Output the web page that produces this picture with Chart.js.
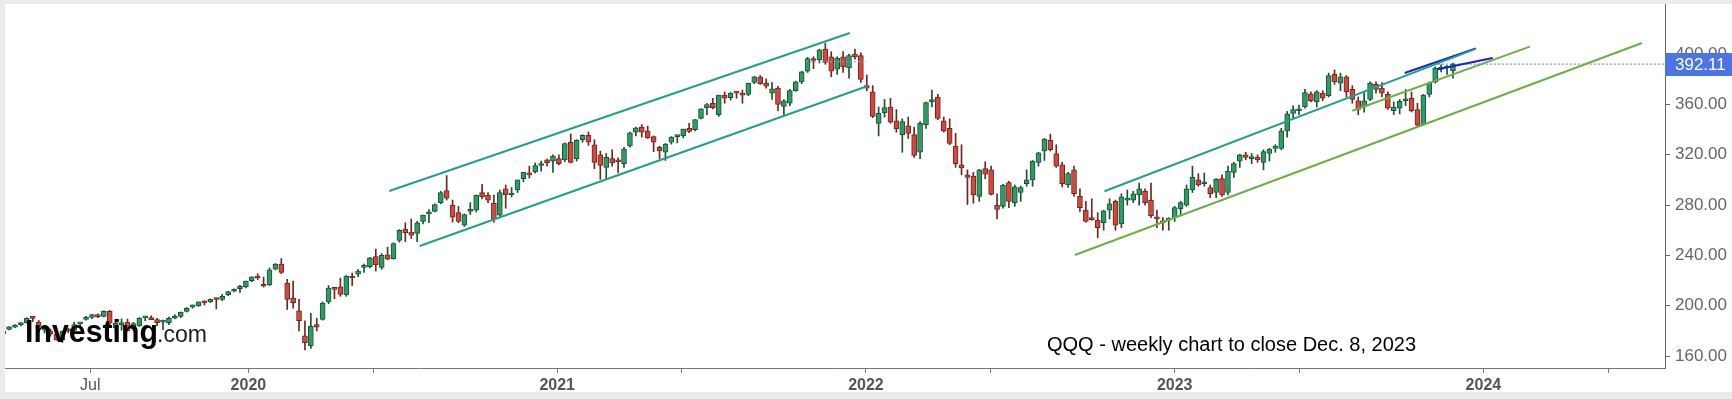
<!DOCTYPE html>
<html>
<head>
<meta charset="utf-8">
<title>QQQ weekly</title>
<script src="https://cdn.jsdelivr.net/npm/chart.js"></script>
<style>
  html, body { margin: 0; padding: 0; background: #ebebeb; overflow: hidden; }
</style>
</head>
<body>
<canvas id="qqq" width="1732" height="399"></canvas>
<script>
// weekly candles [open, high, low, close], first week starts Mon 18 Mar 2019
var firstWeek = '2019-03-18';

var w2019 = [
  [178.5,181.0,176.7,177.6],[177.5,180.3,175.6,179.7],[181.2,183.3,180.7,183.2],[183.0,185.0,182.5,184.4],
  [185.0,186.5,183.9,186.5],[186.3,190.4,186.0,190.0],[190.3,191.5,187.4,189.9],[187.0,188.3,179.6,183.5],
  [180.5,184.5,178.2,181.0],[180.0,181.5,175.7,177.8],[177.5,178.5,172.6,172.8],[173.0,179.8,170.7,179.6],
  [180.5,182.0,178.5,180.0],[180.3,187.0,180.0,185.0],[185.5,186.5,183.0,186.7],[189.0,191.5,188.5,190.9],
  [190.7,193.2,189.7,193.0],[193.0,193.6,190.5,191.3],[191.5,196.0,191.0,195.6],[195.6,196.3,184.6,186.2],
  [182.5,187.5,179.0,186.0],[185.0,189.5,180.5,185.8],[187.0,189.3,180.0,180.0],[181.5,186.8,180.0,185.7],
  [184.0,190.5,183.5,190.0],[190.3,191.5,188.0,191.0],[190.5,192.0,188.8,188.8],[189.0,190.0,184.2,186.5],
  [187.0,188.5,181.0,187.6],[186.5,191.0,185.0,190.0],[190.0,193.0,189.5,191.0],[191.5,195.0,190.5,194.8],
  [195.5,198.5,195.0,198.0],[198.9,200.6,198.0,200.6],[200.0,203.0,199.5,203.0],[203.5,204.0,200.5,202.3],
  [203.0,205.5,202.5,205.0],[205.5,206.0,197.5,204.9],[205.0,209.0,204.0,207.5],[208.5,211.5,208.0,211.2],
  [211.5,213.5,211.0,212.6],[213.5,216.2,210.5,215.4]
];
var w2020 = [
  [214.9,219.6,214.2,219.5],[220.0,223.0,219.0,223.0],[223.5,225.4,220.8,222.0],[217.0,222.8,214.8,215.5],
  [216.5,230.0,216.0,228.5],[229.0,233.5,228.5,233.0],[233.0,237.5,225.5,226.5],[218.0,221.0,197.0,205.0],
  [206.0,219.5,198.0,202.5],[196.0,205.0,180.0,188.0],[176.0,188.0,164.9,170.7],[168.0,194.0,166.0,183.5],
  [185.0,190.0,180.0,183.0],[189.0,203.0,188.5,202.0],[203.0,216.0,201.5,214.0],[213.5,214.0,205.5,213.0],
  [215.0,222.0,207.5,209.0],[208.5,224.0,207.5,223.5],[223.5,226.0,216.0,222.0],[225.0,229.0,223.0,227.5],
  [230.5,233.0,226.5,232.0],[231.0,238.5,230.0,238.0],[239.0,245.0,227.5,232.5],[230.5,241.5,229.0,240.0],
  [240.5,246.5,236.5,237.0],[237.5,250.0,237.0,249.5],[252.0,260.5,250.5,260.0],[261.0,266.0,251.0,258.0],
  [258.5,269.0,253.5,256.0],[257.5,267.0,251.0,266.0],[267.0,272.0,265.0,272.0],[273.0,276.5,266.0,274.0],
  [275.0,281.0,274.5,280.5],[282.0,291.0,281.0,290.0],[291.5,303.5,284.0,285.5],[280.0,284.0,266.5,270.5],
  [274.0,279.0,266.0,267.0],[264.0,273.0,263.0,272.5],[275.0,282.0,272.5,275.0],[276.0,288.0,274.5,288.0],
  [290.0,296.5,285.0,286.5],[288.0,290.0,282.0,284.0],[281.5,288.0,266.5,269.0],[272.0,292.0,270.0,290.0],
  [293.0,296.0,277.5,288.0],[288.0,294.0,286.5,289.0],[292.0,300.0,290.0,300.0],[301.0,306.0,298.5,306.0],
  [305.5,311.0,301.5,304.0],[306.5,313.5,305.5,311.5],[311.5,315.0,307.0,312.0],[316.0,316.5,311.0,313.7]
];
var w2021 = [
  [315.0,320.0,306.0,319.0],[317.0,320.0,312.0,313.0],[316.0,329.5,314.5,329.0],[330.0,336.5,313.5,314.0],
  [317.0,332.0,315.0,331.5],[332.0,336.0,330.0,335.5],[335.5,338.2,327.5,330.0],[328.0,332.0,309.0,314.0],
  [320.0,323.0,300.5,311.5],[310.0,321.0,300.5,318.0],[317.0,324.0,311.0,313.5],[315.0,317.5,305.5,314.5],
  [313.0,326.0,310.0,324.5],[327.0,338.0,326.0,337.5],[338.0,342.0,335.0,341.5],[342.0,344.0,334.0,338.0],
  [339.0,342.8,333.0,333.5],[334.5,335.0,322.5,330.0],[326.0,327.0,317.0,323.0],[322.0,329.0,315.5,328.5],
  [330.0,334.5,328.5,334.0],[334.5,335.5,329.5,335.0],[335.0,340.5,333.5,340.5],[341.0,345.0,337.5,338.5],
  [340.0,348.0,339.0,348.0],[349.0,356.5,348.5,356.5],[357.5,361.0,352.0,360.0],[361.0,365.0,356.5,357.5],
  [352.0,367.5,350.5,367.5],[367.5,370.0,361.0,365.0],[365.5,369.5,363.5,369.0],[369.5,370.0,365.0,369.0],
  [369.0,371.5,361.0,367.5],[368.0,377.0,367.0,377.0],[377.5,382.5,376.5,382.0],[382.0,383.0,376.0,376.5],
  [377.0,380.5,373.0,374.5],[369.0,377.5,364.0,372.5],[373.0,374.5,355.0,360.0],[358.5,364.0,351.5,363.0],
  [361.0,372.0,359.0,371.0],[371.0,378.5,370.5,378.0],[378.0,386.5,376.5,386.0],[386.5,397.5,385.5,396.5],
  [396.0,398.0,388.5,395.0],[395.5,404.0,393.0,403.5],[404.0,408.7,392.0,393.5],[398.0,402.0,382.0,386.5],
  [388.0,398.0,384.0,397.0],[398.0,402.0,385.5,390.0],[389.0,400.0,381.0,399.0],[400.0,404.0,396.0,397.9]
];
var w2022 = [
  [399.0,401.0,377.5,380.0],[375.0,383.5,371.0,373.0],[370.0,375.0,349.5,350.5],[345.0,358.0,335.0,353.0],
  [353.5,364.0,350.0,357.5],[358.0,365.0,345.0,346.0],[347.0,356.0,338.0,340.5],[336.0,348.5,322.0,346.5],
  [343.0,350.0,333.0,337.0],[336.0,342.0,318.0,319.5],[322.0,346.5,317.0,345.0],[344.0,362.0,341.0,361.5],
  [362.0,371.5,358.0,364.0],[366.0,368.0,348.0,349.0],[347.0,350.0,338.0,339.0],[341.0,348.5,328.0,329.0],
  [327.0,337.0,310.0,313.0],[312.0,328.0,304.0,309.5],[304.0,308.0,280.5,302.0],[303.0,306.0,281.5,288.0],
  [287.0,308.5,283.0,308.0],[309.0,314.5,301.0,304.5],[308.0,311.0,288.0,288.5],[280.0,289.0,269.0,276.5],
  [279.0,296.5,277.5,296.0],[298.0,299.0,278.0,283.0],[282.0,296.0,279.0,294.5],[290.0,295.0,283.0,294.0],
  [297.0,308.0,295.0,300.0],[300.0,315.5,295.0,315.0],[314.0,322.0,311.0,321.5],[323.0,333.0,315.5,332.5],
  [331.5,336.5,323.0,324.0],[321.0,328.0,310.0,311.0],[312.0,314.0,294.5,297.0],[296.0,306.0,294.0,305.0],
  [308.0,311.0,287.0,289.0],[287.0,293.0,275.0,278.0],[276.0,283.0,266.5,267.0],[269.0,285.0,268.0,268.5],
  [268.0,274.0,254.0,262.0],[266.0,276.0,260.0,275.5],[276.0,285.0,269.0,281.0],[283.0,284.0,260.0,264.0],
  [265.0,289.0,262.0,286.5],[284.0,292.0,280.0,285.0],[284.0,291.0,282.0,289.0],[288.0,297.5,280.0,293.0],
  [291.0,293.0,280.0,282.0],[284.0,297.5,270.0,271.5],[270.0,276.0,262.0,269.0],[267.0,270.0,260.0,266.0]
];
var w2023 = [
  [268.0,270.0,260.0,268.5],[270.0,279.0,267.0,278.0],[277.0,283.0,272.0,282.0],[280.0,296.0,279.0,293.0],
  [292.0,311.0,290.0,302.0],[300.0,305.0,295.0,296.0],[297.0,305.5,295.0,298.0],[294.0,296.0,286.0,289.0],
  [290.0,301.0,286.0,300.5],[301.0,304.0,287.0,288.0],[290.0,311.0,288.0,307.0],[306.0,314.0,302.0,313.0],
  [315.0,320.5,310.0,320.0],[320.0,322.0,316.0,318.0],[317.0,321.0,313.0,318.5],[318.0,320.0,314.0,316.0],
  [314.0,324.0,308.0,322.5],[321.0,325.0,315.0,324.5],[325.0,328.0,322.0,327.0],[325.0,341.0,324.0,339.0],
  [339.0,354.5,334.0,352.5],[353.0,359.0,349.0,356.0],[355.0,359.5,352.0,356.5],[358.0,372.0,357.0,369.5],
  [368.5,370.0,362.0,363.0],[362.0,371.0,358.0,370.0],[369.0,371.0,363.0,365.0],[367.0,385.0,366.0,383.0],
  [384.0,387.5,376.0,378.0],[377.0,385.0,371.0,382.0],[382.0,383.0,366.0,370.0],[372.0,375.0,361.0,364.0],
  [363.0,366.0,352.0,356.0],[358.0,370.0,354.0,363.0],[364.0,378.0,363.0,377.0],[376.0,378.0,369.0,372.0],
  [373.0,377.5,366.0,369.0],[368.0,370.0,356.0,357.0],[355.0,362.0,352.0,358.0],[357.0,364.0,352.5,362.5],
  [363.0,372.0,359.0,363.5],[365.0,370.0,354.0,355.0],[356.0,361.0,342.5,343.5],[344.0,368.0,343.5,367.5],
  [368.0,378.0,366.0,377.0],[378.0,390.0,377.0,389.0],[388.0,391.5,386.0,388.5],[389.0,391.0,384.0,389.0],
  [387.0,393.0,381.0,392.11]
];
var lastClose = 392.11;

// axis ticks
var tickDates  = ['2019-07-08','2020-01-11','2020-06-07','2021-01-11','2021-06-07','2022-01-11','2022-06-07',
                  '2023-01-11','2023-06-07','2024-01-11','2024-06-07'];
var tickLabels = ['Jul','2020','','2021','','2022','','2023','','2024',''];
var priceTicks = [160, 200, 240, 280, 320, 360, 400];

// drawn trend lines: [date, price] at both ends
var channel20Top  = [['2020-06-26', 291.2], ['2021-12-23', 416.9]];
var channel20Low  = [['2020-08-01', 247.5], ['2022-01-13', 374.7]];
var channel23Top  = [['2022-10-20', 291.0], ['2024-01-01', 404.0]];
var support23Long = [['2022-09-15', 240.3], ['2024-07-17', 408.9]];
var support23Short= [['2023-08-09', 355.0], ['2024-03-06', 406.0]];
var wedgeTop      = [['2023-10-10', 385.0], ['2024-01-02', 404.6]];
var wedgeLow      = [['2023-11-18', 388.0], ['2024-01-22', 397.0]];
var peak21Level   = [['2021-11-01', 394.0], ['2022-01-12', 394.0]];
var lastLevel     = [['2023-11-18', lastClose], ['2024-08-15', lastClose]];

var DAY = 86400000;
function toYear(v) {
  var ms = typeof v === 'number' ? v : Date.parse(v);
  var y = new Date(ms).getUTCFullYear();
  var a = Date.UTC(y, 0, 1), b = Date.UTC(y + 1, 0, 1);
  return y + (ms - a) / (b - a);
}

var weeks = w2019.concat(w2020, w2021, w2022, w2023);
var start = Date.parse(firstWeek);
var bodies = [], wicks = [], fills = [], edges = [];
weeks.forEach(function (k, i) {
  var x = toYear(start + (i * 7 + 2) * DAY);
  var up = k[3] >= k[0];
  bodies.push({ x: x, y: [Math.min(k[0], k[3]), Math.max(k[0], k[3])] });
  wicks.push({ x: x, y: [k[2], k[1]] });
  fills.push(up ? '#2b9e64' : '#d3483c');
  edges.push(up ? '#1d4f36' : '#6b2820');
});

function seg(pts) {
  return pts.map(function (p) { return { x: toYear(p[0]), y: p[1] }; });
}
function lineSet(pts, color, width, dash) {
  return {
    type: 'line', data: seg(pts), borderColor: color, borderWidth: width,
    borderDash: dash || [], pointRadius: 0, fill: false, tension: 0, order: 0
  };
}

var FONT = "'Liberation Sans', Arial, sans-serif";
Chart.defaults.font.family = FONT;

var frame = {
  id: 'frame',
  beforeDraw: function (chart) {
    var c = chart.ctx;
    c.save();
    c.fillStyle = '#ebebeb';
    c.fillRect(0, 0, chart.width, chart.height);
    c.fillStyle = '#ffffff';
    c.fillRect(5, 4, chart.width - 5, 388);
    c.restore();
  },
  afterDatasetsDraw: function (chart) {
    var c = chart.ctx;
    c.save();
    c.textBaseline = 'alphabetic';
    c.fillStyle = '#050505';
    c.font = 'bold 32px ' + FONT;
    c.fillText('Investing', 25, 342, 133);
    c.fillStyle = '#1c1c1c';
    c.font = '24px ' + FONT;
    c.fillText('.com', 157, 342, 50);
    c.fillStyle = '#000000';
    c.font = '20px ' + FONT;
    c.fillText('QQQ - weekly chart to close Dec. 8, 2023', 1047, 351, 372);
    c.restore();
  },
  afterDraw: function (chart) {
    var c = chart.ctx, a = chart.chartArea;
    var y = Math.round(chart.scales.y.getPixelForValue(lastClose));
    c.save();
    c.fillStyle = '#4b74e6';
    c.fillRect(a.right, y - 11, chart.width - a.right, 23);
    c.fillStyle = '#ffffff';
    c.font = '17px ' + FONT;
    c.textBaseline = 'middle';
    c.fillText(lastClose.toFixed(2), a.right + 10, y + 1);
    c.restore();
  }
};

new Chart(document.getElementById('qqq'), {
  type: 'bar',
  data: {
    datasets: [
      lineSet(channel20Top, '#22a08c', 2),
      lineSet(channel20Low, '#22a08c', 2),
      lineSet(channel23Top, '#22a08c', 2),
      lineSet(support23Long, '#6fae45', 2),
      lineSet(support23Short, '#6fae45', 2),
      lineSet(wedgeTop, '#1b22cf', 2),
      lineSet(wedgeLow, '#1b22cf', 2),
      lineSet(peak21Level, '#8b9ee0', 1, [2, 2]),
      lineSet(lastLevel, '#5b78d6', 1, [2, 2]),
      {
        label: 'body', data: bodies, grouped: false, order: 1,
        barThickness: 5, minBarLength: 2, borderSkipped: false,
        backgroundColor: fills, borderColor: edges, borderWidth: 1
      },
      {
        label: 'wick', data: wicks, grouped: false, order: 2,
        barThickness: 1, borderWidth: 0, backgroundColor: edges
      }
    ]
  },
  options: {
    responsive: false,
    animation: false,
    events: [],
    devicePixelRatio: 1,
    layout: { padding: { left: 5, top: 4, right: 0, bottom: 0 } },
    plugins: { legend: { display: false }, tooltip: { enabled: false } },
    scales: {
      x: {
        type: 'linear', min: 2019.2389, max: 2024.6155, offset: false,
        afterBuildTicks: function (s) {
          s.ticks = tickDates.map(function (d) { return { value: toYear(d) }; });
        },
        afterFit: function (s) { s.height = 31; s.paddingLeft = 0; s.paddingRight = 0; },
        grid: { drawOnChartArea: false, drawTicks: true, tickLength: 5, color: '#777', offset: false },
        border: { display: true, color: '#777', width: 1 },
        ticks: {
          autoSkip: false, maxRotation: 0, padding: 3, color: '#555',
          callback: function (v, i) { return tickLabels[i]; },
          font: function (c) { return { size: 16, weight: c.index === 0 ? 'normal' : 'bold' }; }
        }
      },
      y: {
        type: 'linear', position: 'right', min: 150.46, max: 439.92,
        afterBuildTicks: function (s) {
          s.ticks = priceTicks.map(function (v) { return { value: v }; });
        },
        afterFit: function (s) { s.width = 67; s.paddingTop = 0; s.paddingBottom = 0; },
        grid: { drawOnChartArea: false, drawTicks: true, tickLength: 5, color: '#666' },
        border: { display: true, color: '#666', width: 1 },
        ticks: {
          padding: 5, color: '#666', font: { size: 17 },
          callback: function (v) { return Number(v).toFixed(2); }
        }
      }
    }
  },
  plugins: [frame]
});
</script>
</body>
</html>
